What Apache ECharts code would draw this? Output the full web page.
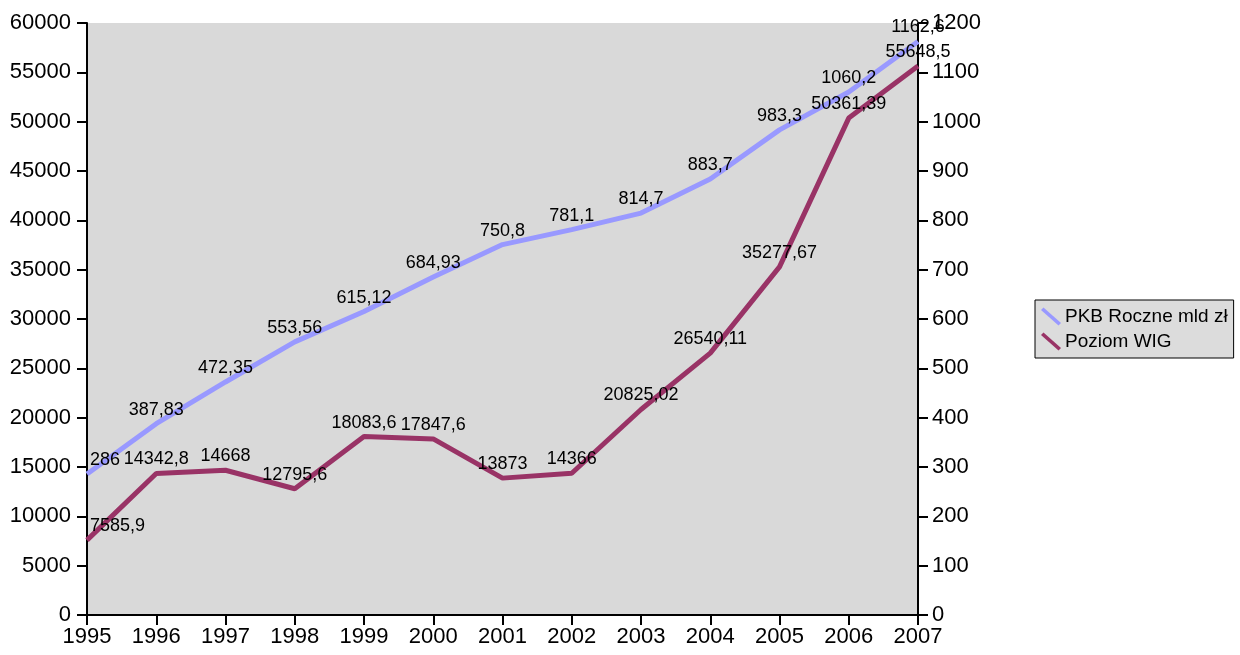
<!DOCTYPE html>
<html><head><meta charset="utf-8">
<script src="https://cdn.jsdelivr.net/npm/echarts@6/dist/echarts.min.js"></script>
<style>html,body{margin:0;padding:0;background:#fff}#c{width:1240px;height:655px}</style>
</head><body><div id="c"></div>
<script>
const years = ['1995','1996','1997','1998','1999','2000','2001','2002','2003','2004','2005','2006','2007'];
const pkb = [286, 387.83, 472.35, 553.56, 615.12, 684.93, 750.8, 781.1, 814.7, 883.7, 983.3, 1060.2, 1162.6];
const wig = [7585.9, 14342.8, 14668, 12795.6, 18083.6, 17847.6, 13873, 14366, 20825.02, 26540.11, 35277.67, 50361.39, 55648.5];
const seriesNames = ['PKB Roczne mld zł', 'Poziom WIG'];

const FONT = 'Liberation Sans, Arial, sans-serif';
const fmt = p => String(p.value).replace('.', ',');
function toData(arr) {
  return arr.map((v, i) => i === 0 ? {value: v, label: {align: 'left', offset: [3, 0]}} : v);
}
const chart = echarts.init(document.getElementById('c'));
const axisCommon = {
  axisLine: {show: true, lineStyle: {color: '#000', width: 2}},
  axisTick: {show: true, inside: false, length: 10, lineStyle: {color: '#000', width: 2}},
  axisLabel: {color: '#000', fontSize: 22, fontFamily: FONT, margin: 16, formatter: v => String(v)},
  splitLine: {show: false}
};
const labelStyle = {show: true, position: 'top', distance: 5, formatter: fmt, color: '#000', fontSize: 18, fontFamily: FONT};
chart.setOption({
  animation: false,
  backgroundColor: '#fff',
  grid: {left: 87, right: 322, top: 23, bottom: 40, show: true, backgroundColor: '#d9d9d9', borderWidth: 0},
  legend: {
    orient: 'vertical', left: 1035, top: 300,
    data: seriesNames,
    backgroundColor: '#dcdcdc', borderColor: '#000', borderWidth: 1,
    padding: [7, 6, 7, 6], itemGap: 6,
    itemWidth: 20, itemHeight: 18,
    icon: 'path://M0,2.5 L2.5,0 L20,15.5 L17.5,18 Z',
    textStyle: {fontSize: 19, fontFamily: FONT, color: '#000', padding: [0, 0, 0, -1]}
  },
  xAxis: Object.assign({}, axisCommon, {
    type: 'category', data: years, boundaryGap: false,
    axisLabel: {color: '#000', fontSize: 22, fontFamily: FONT, margin: 11}
  }),
  yAxis: [
    Object.assign({}, axisCommon, {type: 'value', min: 0, max: 60000, interval: 5000, position: 'left'}),
    Object.assign({}, axisCommon, {type: 'value', min: 0, max: 1200, interval: 100, position: 'right',
      axisLabel: Object.assign({}, axisCommon.axisLabel, {margin: 14})})
  ],
  series: [
    {
      name: seriesNames[0], type: 'line', yAxisIndex: 1, data: toData(pkb),
      symbol: 'circle', symbolSize: 0, showSymbol: true,
      lineStyle: {color: '#9999ff', width: 5}, itemStyle: {color: '#9999ff'},
      label: labelStyle
    },
    {
      name: seriesNames[1], type: 'line', yAxisIndex: 0, data: toData(wig),
      symbol: 'circle', symbolSize: 0, showSymbol: true,
      lineStyle: {color: '#993366', width: 5}, itemStyle: {color: '#993366'},
      label: labelStyle
    }
  ]
});
</script></body></html>
